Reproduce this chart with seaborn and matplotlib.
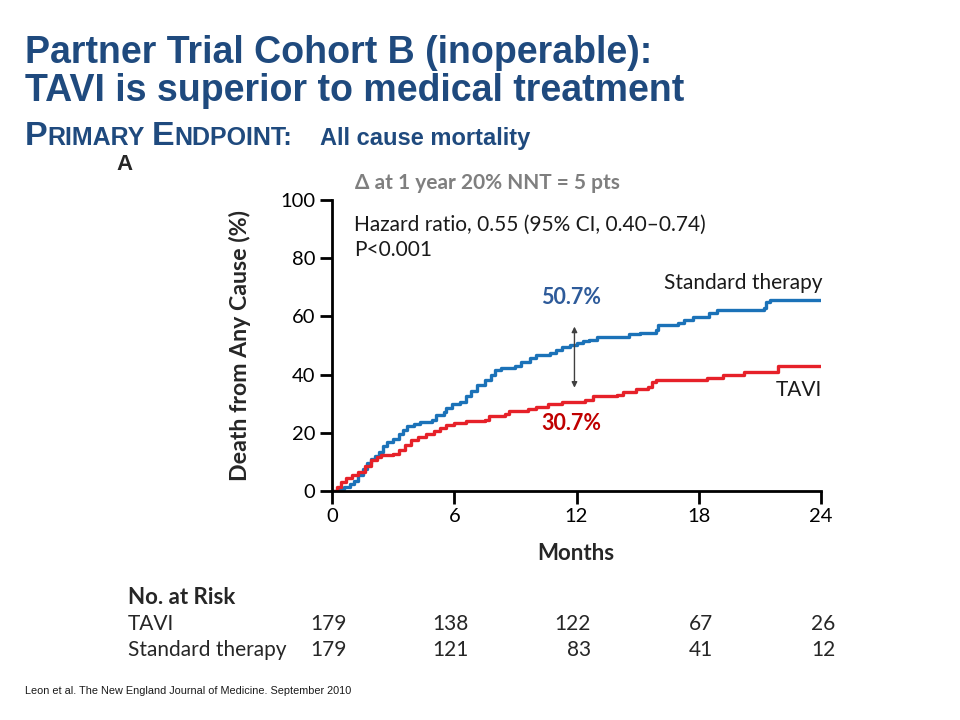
import numpy as np
import pandas as pd
import matplotlib
matplotlib.use("Agg")
import matplotlib.pyplot as plt
import seaborn as sns

# Kaplan-Meier steps (months, % dead)
std_months = [0, 0.3, 0.6, 0.9, 1.1, 1.3, 1.5, 1.7, 1.9, 2.1, 2.3, 2.5, 2.7, 3.0, 3.3,
              3.5, 3.7, 4.0, 4.3, 4.9, 5.1, 5.5, 5.6, 5.9, 6.3, 6.6, 6.8, 7.1, 7.5, 7.8,
              8.0, 8.3, 9.0, 9.3, 9.7, 10.0, 10.7, 11.0, 11.3, 11.7, 12.0, 12.3, 12.6, 13.0,
              14.6, 15.1, 15.9, 16.0, 17.0, 17.3, 17.7, 18.5, 18.9, 21.2, 21.3, 21.5, 24.0]
std_pct = [0, 0.6, 1.5, 2.5, 3.5, 5.5, 7.5, 9.5, 11, 12, 13.5, 15.5, 17, 18, 19.5,
           21, 22.3, 23, 23.6, 24.5, 26.2, 27, 28.5, 29.8, 30.5, 32.5, 34.5, 36.5, 38, 40,
           41.5, 42.3, 43, 44.5, 45.8, 46.8, 47.4, 48.3, 49.4, 50.2, 50.7, 51.5, 52, 53,
           53.8, 54.4, 55.2, 57, 57.6, 58.6, 59.8, 61, 62.2, 63, 64.8, 65.8, 65.8]

tavi_months = [0, 0.25, 0.45, 0.7, 1.0, 1.3, 1.6, 1.9, 2.2, 2.4, 3.0, 3.3, 3.6, 3.9, 4.2,
               4.6, 5.0, 5.3, 5.6, 6.0, 6.6, 7.5, 7.7, 8.5, 8.7, 9.6, 10.0, 10.6, 11.3,
               12.4, 12.8, 14.0, 14.3, 14.9, 15.5, 15.7, 15.9, 18.4, 19.2, 20.2, 21.9, 24.0]
tavi_pct = [0, 1.5, 3, 4.5, 5.5, 6.5, 8.5, 10.5, 11.8, 12.3, 12.6, 14.2, 15.8, 17.5, 18.5,
            19.5, 20.5, 21.5, 22.8, 23.3, 24, 24.4, 25.8, 26.4, 27.6, 28.2, 29, 30, 30.7,
            31.2, 32.5, 33, 34, 35.2, 35.8, 37.3, 38.1, 38.8, 40, 41, 43, 43]

risk_months = [0, 6, 12, 18, 24]
risk_tavi = [179, 138, 122, 67, 26]
risk_std = [179, 121, 83, 41, 12]

BLUE = "#1b72b8"
RED = "#e62129"
TITLE = "#1f4a7e"

sns.set_theme(style="ticks")
plt.rcParams['font.family'] = ['Lato', 'DejaVu Sans']

fig = plt.figure(figsize=(9.6, 7.2), dpi=100)
W, H = 960, 720


def px(x, y):
    return x / W, 1 - y / H


ax = fig.add_axes([332 / W, 1 - 491 / H, (821 - 332) / W, (491 - 200) / H])

df = pd.concat([
    pd.DataFrame({'month': std_months, 'pct': std_pct, 'group': 'Standard therapy'}),
    pd.DataFrame({'month': tavi_months, 'pct': tavi_pct, 'group': 'TAVI'}),
])
sns.lineplot(data=df, x='month', y='pct', hue='group', estimator=None,
             palette={'Standard therapy': BLUE, 'TAVI': RED},
             drawstyle='steps-post', linewidth=2.4, legend=False, ax=ax)

ax.set_xlim(0, 24)
ax.set_ylim(0, 100)
ax.set_xticks(risk_months)
ax.set_yticks(range(0, 101, 20))
ax.set_xlabel('')
ax.set_ylabel('')
for side in ['top', 'right']:
    ax.spines[side].set_visible(False)
for side in ['left', 'bottom']:
    ax.spines[side].set_linewidth(2)
    ax.spines[side].set_color('black')
ax.tick_params(length=9, width=2, labelsize=14.5, colors='black', pad=3)
ax.patch.set_alpha(0)

# arrow between curves at 1 year
ax.annotate('', xy=(11.9, 35.5), xytext=(11.9, 56.5),
            arrowprops=dict(arrowstyle='<|-|>', color='#404040', lw=1, mutation_scale=8,
                            shrinkA=0, shrinkB=0))

# texts in plot
fig.text(*px(355, 183), 'Δ at 1 year 20% NNT = 5 pts', fontsize=15, fontweight='bold',
         color='#7f7f7f', va='center')
fig.text(*px(354, 225), 'Hazard ratio, 0.55 (95% CI, 0.40–0.74)', fontsize=15, va='center', color='#1a1a1a')
fig.text(*px(354, 250), 'P<0.001', fontsize=15, va='center', color='#1a1a1a')
fig.text(*px(822, 283), 'Standard therapy', fontsize=15, ha='right', va='center', color='#1a1a1a')
fig.text(*px(822, 390), 'TAVI', fontsize=15, ha='right', va='center', color='#1a1a1a')
fig.text(*px(571, 297), '50.7%', fontsize=15.5, fontweight='bold', color='#2e5b9a', ha='center', va='center')
fig.text(*px(571, 424), '30.7%', fontsize=15.5, fontweight='bold', color='#c00000', ha='center', va='center')

fig.text(*px(576, 553), 'Months', fontsize=16, fontweight='bold', ha='center', va='center')
fig.text(*px(240, 345), 'Death from Any Cause (%)', fontsize=16.7, fontweight='bold', rotation=90,
         ha='center', va='center')

tf = ['Liberation Sans', 'DejaVu Sans']
fig.text(*px(116, 165), 'A', fontsize=16, fontweight='bold', va='center', family=tf)

# number at risk table
fig.text(*px(128, 597), 'No. at Risk', fontsize=16, fontweight='bold', va='center')
fig.text(*px(128, 624), 'TAVI', fontsize=15, va='center')
fig.text(*px(128, 650), 'Standard therapy', fontsize=15, va='center')
for m, a, b in zip(risk_months, risk_tavi, risk_std):
    xr = 332 + (m + 0.7) * (821 - 332) / 24
    fig.text(*px(xr, 624), str(a), fontsize=15, ha='right', va='center')
    fig.text(*px(xr, 650), str(b), fontsize=15, ha='right', va='center')

# slide titles
fig.text(*px(25, 63), 'Partner Trial Cohort B (inoperable):', fontsize=27, fontweight='bold',
         color=TITLE, family=tf, va='baseline')
fig.text(*px(25, 101), 'TAVI is superior to medical treatment', fontsize=27, fontweight='bold',
         color=TITLE, family=tf, va='baseline')

renderer = fig.canvas.get_renderer()
x0 = 25
for s, size, gap in [('P', 24.5, 0), ('RIMARY', 18, 7), ('E', 24.5, 0), ('NDPOINT:', 18, 28),
                     ('All cause mortality', 17, 0)]:
    t = fig.text(*px(x0, 145), s, fontsize=size, fontweight='bold', color=TITLE,
                 family=tf, va='baseline')
    x0 += t.get_window_extent(renderer).width + gap

fig.text(*px(25, 691), 'Leon et al. The New England Journal of Medicine. September 2010',
         fontsize=7.85, family=tf, va='center', color='#1a1a1a')

fig.savefig('out.png', dpi=100)
